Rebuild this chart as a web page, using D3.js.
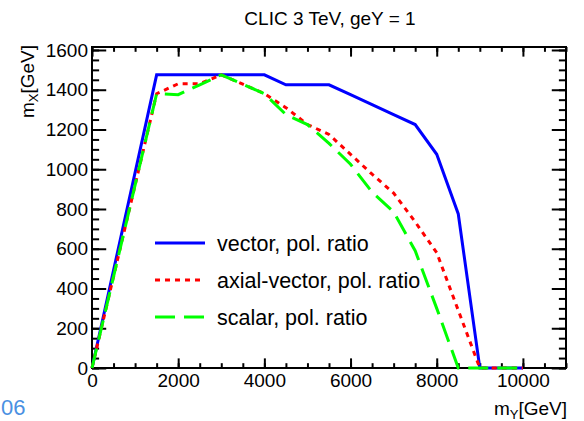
<!DOCTYPE html>
<html>
<head>
<meta charset="utf-8">
<script src="https://cdn.jsdelivr.net/npm/d3@7"></script>
<style>
    body { margin: 0; background: #fff; }
    text { font-family: "Liberation Sans", Arial, sans-serif; fill: #000; }
</style>
</head>
<body>
<script>
//mass of Y on the x axis (GeV)
var massY = [0, 1500, 2000, 2500, 3000, 3500, 4000, 4500, 5000, 5500, 6000, 6500, 7000, 7500, 8000, 8500, 9000, 9500, 10000];

//reach in mass of X for each coupling type (GeV)
var vectorReach = [0, 1475, 1475, 1475, 1475, 1475, 1475, 1425, 1425, 1425, 1375, 1325, 1275, 1225, 1075, 775, 0, 0, 0];
var axialReach = [0, 1380, 1430, 1430, 1475, 1428, 1380, 1310, 1225, 1175, 1075, 975, 880, 735, 580, 290, 0, 0, 0];
var scalarReach = [0, 1380, 1375, 1425, 1475, 1428, 1380, 1275, 1225, 1130, 1025, 885, 785, 590, 300, 0, 0, 0, 0];

//legend labels
var seriesNames = ["vector, pol. ratio", "axial-vector, pol. ratio", "scalar, pol. ratio"];

//axis tick values
var xMajor = [0, 2000, 4000, 6000, 8000, 10000];
var yMajor = [0, 200, 400, 600, 800, 1000, 1200, 1400, 1600];

window.onload = function(){

    var w = 584, h = 421;
    var left = 92, right = 566, top = 47, bottom = 368;

    var svg = d3.select("body")
        .append("svg")
        .attr("width", w)
        .attr("height", h);

    //scales
    var x = d3.scaleLinear()
        .domain([0, 11000])
        .range([left, right]);

    var y = d3.scaleLinear()
        .domain([0, 1615])
        .range([bottom, top]);

    //minor ticks every 500 / 50
    var xMinor = d3.range(0, 11001, 500);
    var yMinor = d3.range(0, 1601, 50);

    var xLen = 0.03 * (bottom - top), yLen = 0.03 * (right - left);

    function styleAxis(g){
        g.select(".domain").remove();
        g.selectAll("line").attr("stroke", "#000").attr("stroke-width", 2);
        g.selectAll("text").style("font-size", "19px");
    }

    //bottom axis: minor then major
    svg.append("g")
        .attr("transform", "translate(0," + bottom + ")")
        .call(d3.axisBottom(x).tickValues(xMinor).tickSize(-xLen / 2).tickFormat(""))
        .call(styleAxis);
    svg.append("g")
        .attr("transform", "translate(0," + bottom + ")")
        .call(d3.axisBottom(x).tickValues(xMajor).tickSize(-xLen).tickPadding(6).tickFormat(d3.format("d")))
        .call(styleAxis);

    //top axis, ticks only
    svg.append("g")
        .attr("transform", "translate(0," + top + ")")
        .call(d3.axisTop(x).tickValues(xMinor).tickSize(-xLen / 2).tickFormat(""))
        .call(styleAxis);
    svg.append("g")
        .attr("transform", "translate(0," + top + ")")
        .call(d3.axisTop(x).tickValues(xMajor).tickSize(-xLen).tickFormat(""))
        .call(styleAxis);

    //left axis
    svg.append("g")
        .attr("transform", "translate(" + left + ",0)")
        .call(d3.axisLeft(y).tickValues(yMinor).tickSize(-yLen / 2).tickFormat(""))
        .call(styleAxis);
    svg.append("g")
        .attr("transform", "translate(" + left + ",0)")
        .call(d3.axisLeft(y).tickValues(yMajor).tickSize(-yLen).tickPadding(4).tickFormat(d3.format("d")))
        .call(styleAxis);

    //right axis, ticks only
    svg.append("g")
        .attr("transform", "translate(" + right + ",0)")
        .call(d3.axisRight(y).tickValues(yMinor).tickSize(-yLen / 2).tickFormat(""))
        .call(styleAxis);
    svg.append("g")
        .attr("transform", "translate(" + right + ",0)")
        .call(d3.axisRight(y).tickValues(yMajor).tickSize(-yLen).tickFormat(""))
        .call(styleAxis);

    //frame
    svg.append("rect")
        .attr("x", left)
        .attr("y", top)
        .attr("width", right - left)
        .attr("height", bottom - top)
        .attr("fill", "none")
        .attr("stroke", "#000")
        .attr("stroke-width", 2);

    //series
    var series = [
        {name: seriesNames[0], values: vectorReach, color: "#0000ff", dash: null},
        {name: seriesNames[1], values: axialReach, color: "#ff0000", dash: "5,5"},
        {name: seriesNames[2], values: scalarReach, color: "#00ff00", dash: "20,9"}
    ];

    var line = d3.line()
        .x(function(d, i){ return x(massY[i]); })
        .y(function(d){ return y(d); });

    svg.selectAll(".series")
        .data(series)
        .enter()
        .append("path")
        .attr("class", "series")
        .attr("d", function(d){ return line(d.values); })
        .attr("fill", "none")
        .attr("stroke", function(d){ return d.color; })
        .attr("stroke-width", 3)
        .attr("stroke-dasharray", function(d){ return d.dash; });

    //legend
    var legend = svg.selectAll(".legend")
        .data(series)
        .enter()
        .append("g")
        .attr("class", "legend")
        .attr("transform", function(d, i){ return "translate(155," + (243 + i * 37) + ")"; });

    legend.append("line")
        .attr("x1", 0)
        .attr("x2", 50)
        .attr("stroke", function(d){ return d.color; })
        .attr("stroke-width", 3)
        .attr("stroke-dasharray", function(d){ return d.dash; });

    legend.append("text")
        .attr("x", 62)
        .attr("dy", "0.35em")
        .style("font-size", "21.5px")
        .text(function(d){ return d.name; });

    //title
    svg.append("text")
        .attr("x", 330)
        .attr("y", 25)
        .attr("text-anchor", "middle")
        .style("font-size", "19px")
        .text("CLIC 3 TeV, geY = 1");

    //axis titles
    var xTitle = svg.append("text")
        .attr("x", 567)
        .attr("y", 415)
        .attr("text-anchor", "end")
        .style("font-size", "19px");
    xTitle.append("tspan").text("m");
    xTitle.append("tspan").attr("dy", 4).style("font-size", "13px").text("Y");
    xTitle.append("tspan").attr("dy", -4).text("[GeV]");

    var yTitle = svg.append("text")
        .attr("transform", "translate(34,45) rotate(-90)")
        .attr("text-anchor", "end")
        .style("font-size", "19px");
    yTitle.append("tspan").text("m");
    yTitle.append("tspan").attr("dy", 4).style("font-size", "13px").text("X");
    yTitle.append("tspan").attr("dy", -4).text("[GeV]");

    //stray page number fragment at bottom left
    svg.append("text")
        .attr("x", 1)
        .attr("y", 415)
        .style("font-size", "22px")
        .style("fill", "#4a90e2")
        .text("06");
};
</script>
</body>
</html>
